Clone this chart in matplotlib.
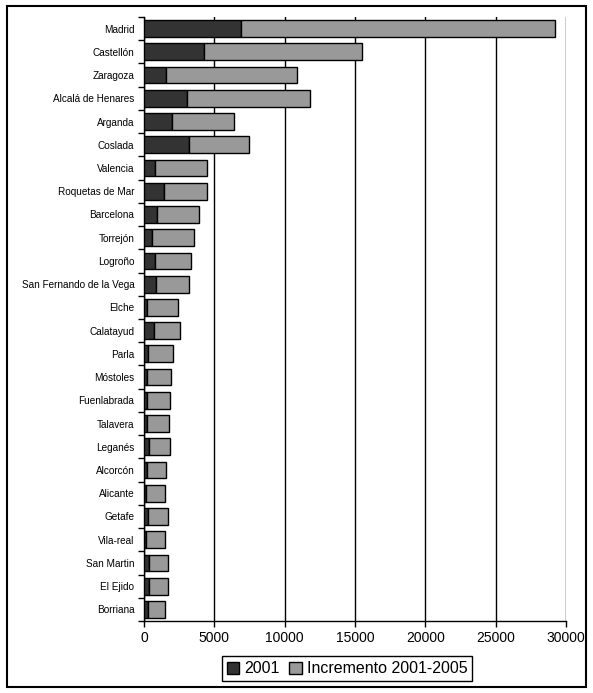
import numpy as np
import matplotlib.pyplot as plt
from matplotlib.patches import Rectangle

cities = ["Madrid", "Castellón", "Zaragoza", "Alcalá de Henares", "Arganda",
          "Coslada", "Valencia", "Roquetas de Mar", "Barcelona", "Torrejón",
          "Logroño", "San Fernando de la Vega", "Elche", "Calatayud", "Parla",
          "Móstoles", "Fuenlabrada", "Talavera", "Leganés", "Alcorcón",
          "Alicante", "Getafe", "Vila-real", "San Martin", "El Ejido", "Borriana"]
v2001 = [6900, 4260, 1590, 3040, 2010, 3180, 760, 1440, 950, 590,
         760, 830, 230, 730, 300, 230, 230, 230, 380, 230,
         160, 300, 160, 380, 380, 300]
total = [29250, 15500, 10900, 11800, 6420, 7490, 4500, 4500, 3930, 3580,
         3370, 3220, 2440, 2580, 2080, 1950, 1880, 1800, 1880, 1580,
         1510, 1730, 1510, 1730, 1730, 1510]
incr = [t - a for t, a in zip(total, v2001)]

plt.rcParams['font.family'] = ['Liberation Sans', 'DejaVu Sans']

fig = plt.figure(figsize=(5.93, 6.93), dpi=100)
ax = fig.add_axes([0.2428, 0.1039, 0.7117, 0.8716])

y = np.arange(len(cities))
ax.barh(y, v2001, height=0.72, color="#333333", edgecolor="black", lw=1, label="2001", zorder=3)
ax.barh(y, incr, left=v2001, height=0.72, color="#999999", edgecolor="black", lw=1,
        label="Incremento 2001-2005", zorder=3)

ax.set_ylim(len(cities) - 0.5, -0.5)
ax.set_xlim(0, 30000)
ax.set_xticks(np.arange(0, 30001, 5000))
ax.tick_params(axis="x", labelsize=10, length=4, width=1, color="black")
ax.set_yticks(y)
ax.set_yticklabels(cities, fontsize=7.2)
ax.tick_params(axis="y", which="major", length=0, pad=7)
ax.set_yticks(np.arange(-0.5, len(cities)), minor=True)
ax.tick_params(axis="y", which="minor", length=4, width=1, color="black")
ax.grid(axis="x", color="black", lw=1, zorder=0)
for s in ["top", "right"]:
    ax.spines[s].set_visible(False)
ax.spines["left"].set_linewidth(1)
ax.spines["bottom"].set_linewidth(1)

fig.legend(loc="center", bbox_to_anchor=(0.585, 0.035), ncol=2, fontsize=11.5,
           frameon=True, fancybox=False, edgecolor="black", framealpha=1,
           handlelength=0.8, handleheight=0.8, handletextpad=0.3,
           columnspacing=0.6, borderpad=0.3)

fig.patches.append(Rectangle((0.011, 0.009), 0.978, 0.982, transform=fig.transFigure,
                             fill=False, edgecolor="black", lw=1.5))

fig.savefig("out.png", dpi=100)
